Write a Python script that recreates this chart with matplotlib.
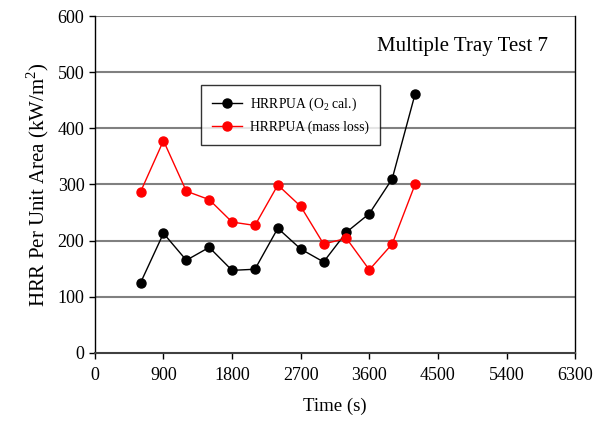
import matplotlib
matplotlib.use("Agg")
import matplotlib.pyplot as plt

plt.rcParams['font.family'] = ['Liberation Serif', 'DejaVu Serif']
plt.rcParams['mathtext.fontset'] = 'custom'
plt.rcParams['mathtext.rm'] = 'Liberation Serif'

# data
time_s = [600, 900, 1200, 1500, 1800, 2100, 2400, 2700, 3000, 3300, 3600, 3900, 4200]
hrrpua_o2 = [125, 213, 165, 188, 147, 149, 222, 185, 162, 215, 248, 310, 461]
hrrpua_mass = [287, 378, 288, 273, 233, 227, 299, 261, 194, 204, 148, 194, 300]
x_ticks = [0, 900, 1800, 2700, 3600, 4500, 5400, 6300]
y_ticks = [0, 100, 200, 300, 400, 500, 600]

fig = plt.figure(figsize=(6.08, 4.33), dpi=100)
ax = fig.add_axes([0.156, 0.185, 0.79, 0.778])

# horizontal grid lines
for yv in y_ticks[1:]:
    ax.axhline(yv, color='#808080', lw=1.5, zorder=1)

ax.plot(time_s, hrrpua_o2, color='black', lw=1, marker='o', ms=6.5,
        label='HRRPUA (O$_2$ cal.)', zorder=3)
ax.plot(time_s, hrrpua_mass, color='red', lw=1, marker='o', ms=6.5,
        label='HRRPUA (mass loss)', zorder=3)

ax.set_xlim(0, 6300)
ax.set_ylim(0, 600)
ax.set_xticks(x_ticks)
ax.set_yticks(y_ticks)
ax.tick_params(direction='out', length=4, width=1, labelsize=13, colors='black')
ax.tick_params(axis='x', pad=6)

ax.spines['top'].set_visible(False)
ax.spines['bottom'].set_color('#404040')
ax.spines['bottom'].set_linewidth(1.5)
ax.spines['left'].set_linewidth(1)
ax.spines['right'].set_linewidth(1)

ax.set_xlabel('Time (s)', fontsize=13.5, labelpad=10)
ax.set_ylabel('HRR Per Unit Area (kW/m$^2$)', fontsize=15, labelpad=5)

ax.text(0.943, 0.91, 'Multiple Tray Test 7', transform=ax.transAxes,
        ha='right', va='center', fontsize=15)

leg = ax.legend(loc='upper left', bbox_to_anchor=(0.221, 0.795), borderaxespad=0,
                fontsize=9.8, frameon=True, fancybox=False, edgecolor='black',
                handlelength=2.2, borderpad=0.8, labelspacing=0.55, handletextpad=0.6)
leg.get_frame().set_linewidth(1)
leg.set_zorder(5)

fig.savefig('out.png', dpi=100)
